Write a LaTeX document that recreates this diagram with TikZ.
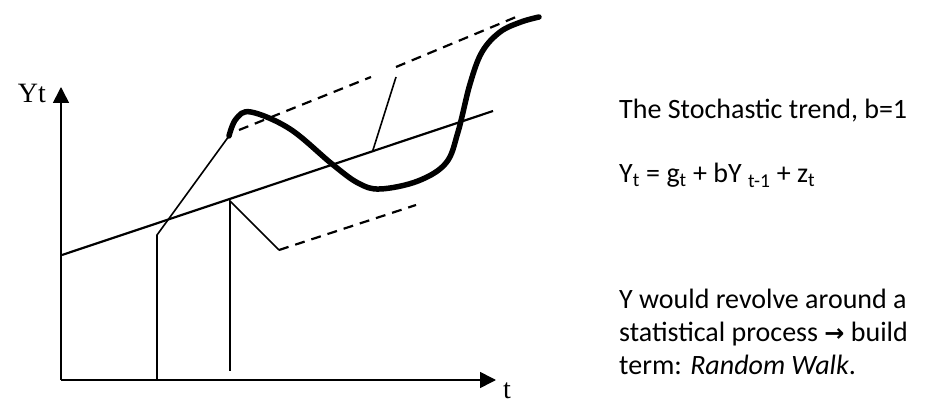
\documentclass[tikz,border=0pt]{standalone}
\usepackage{fontspec}
\setmainfont{Carlito}
\newfontfamily\axisfont{Liberation Serif}
\newfontfamily\arrowfont{DejaVu Sans}
\usetikzlibrary{arrows.meta}
\tikzset{
  axis/.style={line width=1.6pt, -{Triangle[length=16pt, width=16pt]}},
  trend/.style={line width=2.2pt},
  guide/.style={line width=1.6pt},
  band/.style={line width=2.2pt, dash pattern=on 10pt off 7pt},
  walk/.style={line width=5.5pt, line cap=round, line join=round},
  axislabel/.style={font=\axisfont\fontsize{28}{30}\selectfont, inner sep=0pt},
  note/.style={font=\fontsize{28}{32}\selectfont, inner sep=0pt, anchor=base west}
}

\begin{document}
\begin{tikzpicture}[x=1pt, y=-1pt]
  \useasboundingbox (0,0) rectangle (932,403);

  % Axes
  \coordinate (origin) at (61,380);
  \coordinate (ytip) at (61,87);
  \coordinate (xtip) at (496,380);
  \draw[axis] (origin) -- (ytip);
  \draw[axis] (origin) -- (xtip);
  \node[axislabel, anchor=base east] (ylab) at (46,103) {Yt};
  \node[axislabel, anchor=base] (tlab) at (507,398) {t};

  % Trend line
  \coordinate (trendA) at (62,255);
  \coordinate (trendB) at (493,111);
  \draw[trend] (trendA) -- (trendB);

  % First shock, into the walk
  \coordinate (t1) at (157,380);
  \coordinate (t1bend) at (157,235);
  \coordinate (walkstart) at (229,136);
  \draw[guide] (t1) -- (t1bend) -- (walkstart);

  % Second shock, into the lower band
  \coordinate (t2) at (230,371);
  \coordinate (t2top) at (230,201);
  \coordinate (lowstart) at (279,250);
  \coordinate (lowend) at (416,205);
  \draw[guide] (t2) -- (t2top) -- (lowstart);
  \draw[band] (lowstart) -- (lowend);

  % Upper band
  \coordinate (upA) at (239,130);
  \coordinate (upB) at (371,77);
  \coordinate (upC) at (396,67);
  \coordinate (upD) at (516,17);
  \draw[band] (upA) -- (upB);
  \draw[band] (upC) -- (upD);
  \coordinate (uptop) at (396,77);
  \coordinate (upfoot) at (373,150);
  \draw[guide] (uptop) -- (upfoot);

  % Random walk
  \draw[walk] plot[smooth, tension=0.6] coordinates {(walkstart) (236,119) (251,112)
    (290,129) (332,164) (358,183) (380,189) (418,181) (446,163) (458,132)
    (470,84) (482,52) (500,32) (521,22) (539,17)};

  % Notes
  \node[note] (title) at (619,119) {The Stochastic trend, b=1};
  \node[note] (model) at (619,183) {Y\textsubscript{t} = g\textsubscript{t} + bY \textsubscript{t-1} + z\textsubscript{t}};
  \node[note] (line1) at (619,309) {Y would revolve around a};
  \node[note] (line2) at (619,342) {statistical process {\arrowfont\bfseries\fontsize{24}{24}\selectfont →} build};
  \node[note] (line3) at (619,374) {term: \textit{Random Walk}.};
\end{tikzpicture}
\end{document}
